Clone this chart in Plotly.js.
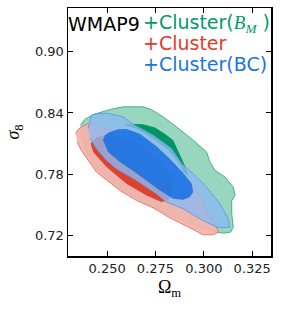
<!DOCTYPE html>
<html>
<head>
<meta charset="utf-8">
<script src="https://cdn.plot.ly/plotly-3.0.1.min.js"></script>
<style>html,body{margin:0;padding:0;background:#fff;}#chart{width:282px;height:313px;}</style>
</head>
<body>
<div id="chart"></div>
<script>
// Contour outlines (Omega_m, sigma_8)
const greenOuterX = [0.2362,0.2384,0.2428,0.2514,0.2583,0.2686,0.2729,0.2790,0.2859,0.2945,0.3014,0.3031,0.3057,0.3109,0.3152,0.3161,0.3144,0.3144,0.3152,0.3138,0.3100,0.3066,0.2980,0.2859,0.2721,0.2600,0.2497,0.2428,0.2384,0.2362];
const greenOuterY = [0.8279,0.8335,0.8384,0.8433,0.8460,0.8460,0.8433,0.8361,0.8263,0.8132,0.8017,0.7919,0.7837,0.7771,0.7673,0.7591,0.7541,0.7410,0.7279,0.7230,0.7220,0.7230,0.7279,0.7371,0.7492,0.7623,0.7764,0.7902,0.8066,0.8230];
const greenInnerX = [0.2591,0.2686,0.2747,0.2798,0.2842,0.2862,0.2880,0.2907,0.2919,0.2897,0.2868,0.2816,0.2729,0.2643,0.2609];
const greenInnerY = [0.8296,0.8289,0.8256,0.8197,0.8132,0.8050,0.7961,0.7863,0.7787,0.7820,0.7919,0.8033,0.8158,0.8253,0.8269];
const redOuterX = [0.2338,0.2350,0.2367,0.2402,0.2436,0.2471,0.2548,0.2633,0.2721,0.2809,0.2876,0.2928,0.2980,0.3023,0.3066,0.3075,0.3049,0.2997,0.2911,0.2824,0.2738,0.2652,0.2566,0.2497,0.2445,0.2402,0.2367,0.2345];
const redOuterY = [0.8197,0.8237,0.8263,0.8296,0.8292,0.8253,0.8223,0.8181,0.8082,0.7955,0.7817,0.7722,0.7591,0.7410,0.7279,0.7230,0.7204,0.7204,0.7289,0.7371,0.7469,0.7541,0.7640,0.7738,0.7820,0.7935,0.8033,0.8115];
const redInnerX = [0.2415,0.2428,0.2497,0.2600,0.2704,0.2781,0.2816,0.2842,0.2833,0.2755,0.2652,0.2514,0.2445];
const redInnerY = [0.8099,0.8017,0.7869,0.7705,0.7591,0.7525,0.7541,0.7623,0.7771,0.7951,0.8109,0.8191,0.8158];
const blueOuterX = [0.2402,0.2410,0.2419,0.2453,0.2505,0.2583,0.2643,0.2738,0.2833,0.2885,0.2945,0.3014,0.3083,0.3126,0.3135,0.3100,0.3066,0.2980,0.2893,0.2807,0.2755,0.2652,0.2548,0.2497,0.2445,0.2414];
const blueOuterY = [0.8246,0.8328,0.8381,0.8394,0.8397,0.8361,0.8279,0.8181,0.8050,0.7902,0.7804,0.7673,0.7509,0.7361,0.7279,0.7273,0.7279,0.7361,0.7460,0.7525,0.7607,0.7738,0.7853,0.7935,0.8050,0.8148];
const blueInnerX = [0.2479,0.2488,0.2514,0.2557,0.2600,0.2669,0.2755,0.2824,0.2893,0.2937,0.2945,0.2928,0.2893,0.2842,0.2773,0.2704,0.2635,0.2566,0.2505];
const blueInnerY = [0.8132,0.8181,0.8214,0.8240,0.8243,0.8197,0.8073,0.7951,0.7810,0.7705,0.7623,0.7574,0.7548,0.7558,0.7640,0.7738,0.7830,0.7919,0.8017];

const xTicks = [0.250, 0.275, 0.300, 0.325];
const xTickText = ['0.250', '0.275', '0.300', '0.325'];
const yTicks = [0.72, 0.78, 0.84, 0.90];
const yTickText = ['0.72', '0.78', '0.84', '0.90'];

const legendLines = ['WMAP9', '+Cluster(<span style="font-family:\'Liberation Serif\'"><i>B</i><sub><i>M</i></sub></span> )', '+Cluster', '+Cluster(BC)'];

function shape(x, y, fill, line) {
  return {x: x, y: y, type: 'scatter', mode: 'lines', fill: 'toself',
    fillcolor: fill, line: {color: line, width: 1}, hoverinfo: 'skip', showlegend: false};
}
const data = [
  shape(greenOuterX, greenOuterY, 'rgb(152,214,192)', 'rgb(70,178,135)'),
  shape(greenInnerX, greenInnerY, 'rgb(0,150,100)', 'rgba(0,150,100,0)'),
  shape(redOuterX, redOuterY, 'rgba(244,178,170,0.92)', 'rgb(236,120,110)'),
  shape(redInnerX, redInnerY, 'rgb(222,66,46)', 'rgba(222,66,46,0)'),
  shape(blueOuterX, blueOuterY, 'rgba(140,185,240,0.8)', 'rgb(100,160,235)'),
  shape(blueInnerX, blueInnerY, 'rgba(15,108,228,0.82)', 'rgba(15,105,225,0)')
];

const axisCommon = {showline: true, linecolor: '#000', linewidth: 1.5, mirror: 'ticks',
  ticks: 'inside', ticklen: 5, tickwidth: 1, tickcolor: '#000', showgrid: false, zeroline: false,
  tickfont: {family: 'DejaVu Sans', size: 13, color: '#222'}};

const layout = {
  width: 282, height: 313,
  margin: {l: 68, r: 11, t: 8, b: 57},
  paper_bgcolor: '#fff', plot_bgcolor: '#fff',
  xaxis: Object.assign({}, axisCommon, {range: [0.2298, 0.3347], tickmode: 'array', tickvals: xTicks, ticktext: xTickText,
    title: {text: 'Ω<sub>m</sub>', font: {family: 'Liberation Serif', size: 18, color: '#000'}, standoff: 5}}),
  yaxis: Object.assign({}, axisCommon, {range: [0.6996, 0.943], tickmode: 'array', tickvals: yTicks, ticktext: yTickText,
    title: {text: '<i>σ</i><sub>8</sub>', font: {family: 'Liberation Serif', size: 18, color: '#000'}, standoff: 10}}),
  annotations: [
    {text: legendLines[0], xref: 'paper', yref: 'paper', x: 0.3596, y: 0.9375, xanchor: 'right', yanchor: 'middle', showarrow: false, borderpad: 0, font: {family: 'DejaVu Sans', size: 19, color: '#000'}},
    {text: legendLines[1], xref: 'paper', yref: 'paper', x: 0.3645, y: 0.9375, xanchor: 'left', yanchor: 'middle', showarrow: false, borderpad: 0, font: {family: 'DejaVu Sans', size: 19, color: '#009b69'}},
    {text: legendLines[2], xref: 'paper', yref: 'paper', x: 0.3645, y: 0.8569, xanchor: 'left', yanchor: 'middle', showarrow: false, borderpad: 0, font: {family: 'DejaVu Sans', size: 19, color: '#e5392b'}},
    {text: legendLines[3], xref: 'paper', yref: 'paper', x: 0.3645, y: 0.7762, xanchor: 'left', yanchor: 'middle', showarrow: false, borderpad: 0, font: {family: 'DejaVu Sans', size: 19, color: '#1a73e8'}}
  ]
};

Plotly.newPlot('chart', data, layout, {staticPlot: true, displayModeBar: false});
</script>
</body>
</html>
